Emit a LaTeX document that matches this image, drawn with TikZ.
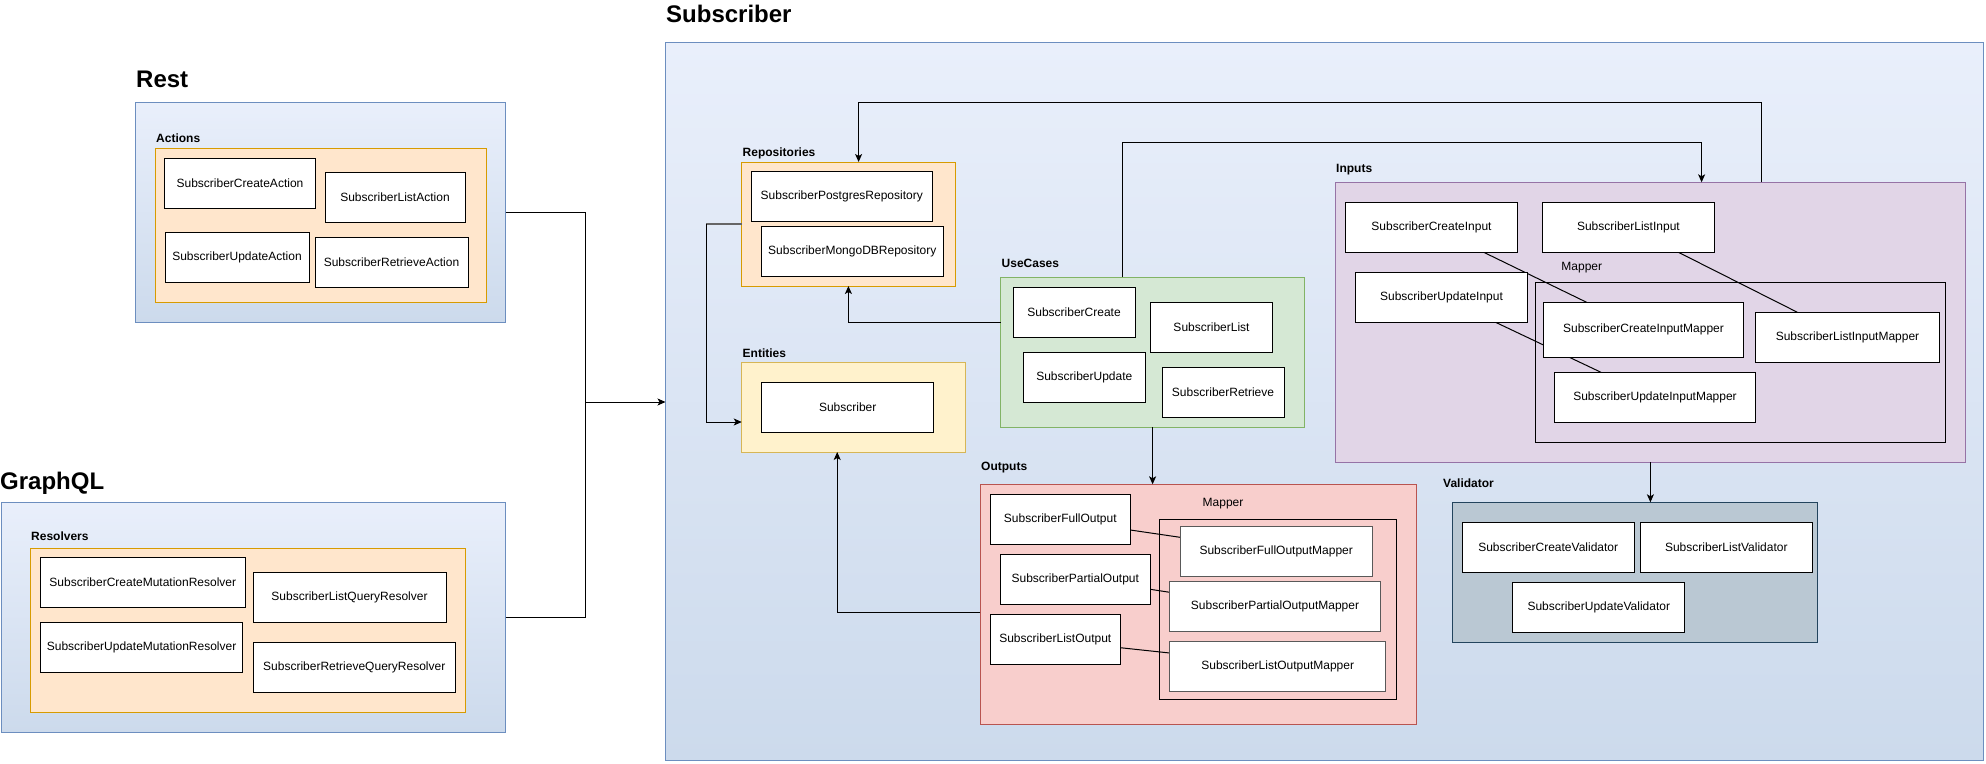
\documentclass[tikz,border=0pt]{standalone}
\usepackage{fontspec}
\setmainfont{Liberation Sans}
\usetikzlibrary{arrows.meta}
\pgfdeclarelayer{bg}
\pgfdeclarelayer{mid}
\pgfsetlayers{bg,mid,main}
\definecolor{blueS}{HTML}{6C8EBF}
\definecolor{blueT}{HTML}{E9EFFB}
\definecolor{blueB}{HTML}{CCDAEC}
\definecolor{orF}{HTML}{FFE6CC}\definecolor{orS}{HTML}{D79B00}
\definecolor{yeF}{HTML}{FFF2CC}\definecolor{yeS}{HTML}{D6B656}
\definecolor{grF}{HTML}{D5E8D4}\definecolor{grS}{HTML}{82B366}
\definecolor{puF}{HTML}{E1D5E7}\definecolor{puS}{HTML}{9673A6}
\definecolor{reF}{HTML}{F8CECC}\definecolor{reS}{HTML}{B85450}
\definecolor{vaF}{HTML}{BAC8D3}\definecolor{vaS}{HTML}{23445D}
\tikzset{
  box/.style={draw=black, fill=white, line width=1pt, inner sep=0pt, outer sep=0pt,
    font=\fontsize{12}{14}\selectfont, align=center, minimum height=50pt},
  gbox/.style={box, draw=black!65},
  grp/.style={line width=1pt, inner sep=0pt, outer sep=0pt},
  outerbox/.style={grp, draw=blueS, top color=blueT, bottom color=blueB},
  orbox/.style={grp, draw=orS, fill=orF},
  yebox/.style={grp, draw=yeS, fill=yeF},
  grbox/.style={grp, draw=grS, fill=grF},
  pubox/.style={grp, draw=puS, fill=puF},
  rebox/.style={grp, draw=reS, fill=reF},
  vabox/.style={grp, draw=vaS, fill=vaF},
  mapbox/.style={grp, draw=black},
  title/.style={anchor=base west, inner sep=0pt, font=\fontsize{24}{28}\selectfont\bfseries},
  lbl/.style={anchor=base west, inner sep=0pt, font=\fontsize{12}{14}\selectfont\bfseries},
  mlbl/.style={inner sep=0pt, font=\fontsize{12}{14}\selectfont},
  arr/.style={line width=1pt, -{Stealth[length=8pt,width=7pt,inset=2pt]}},
  ln/.style={line width=1pt},
}
\begin{document}
\begin{tikzpicture}[x=1pt,y=-1pt]
\useasboundingbox (0,0) rectangle (1986,763);
\begin{pgfonlayer}{bg}
\fill[white] (0,0) rectangle (1986,763);
% Rest
\node[outerbox, minimum width=370pt, minimum height=220pt] (rest) at (320.5,212) {};
\node[orbox, minimum width=331pt, minimum height=154pt] (actions) at (320.5,225) {};
% GraphQL
\node[outerbox, minimum width=504.5pt, minimum height=230pt] (gql) at (253.25,617) {};
\node[orbox, minimum width=435pt, minimum height=164pt] (resolvers) at (247.5,630) {};
% Subscriber
\node[outerbox, minimum width=1318pt, minimum height=718pt] (sub) at (1324.5,401.5) {};
\node[orbox, minimum width=213.3pt, minimum height=124pt] (repos) at (848.4,224) {};
\node[yebox, minimum width=223.3pt, minimum height=90pt] (entities) at (853.4,407) {};
\node[grbox, minimum width=304pt, minimum height=150pt] (usecases) at (1152.6,352) {};
\node[pubox, minimum width=630pt, minimum height=280pt] (inputs) at (1650.4,322.3) {};
\node[mapbox, minimum width=410pt, minimum height=160pt] (inmap) at (1740.4,362.3) {};
\node[rebox, minimum width=436.4pt, minimum height=240pt] (outputs) at (1198.5,604.3) {};
\node[mapbox, minimum width=236.7pt, minimum height=180pt] (outmap) at (1278.3,609.3) {};
\node[vabox, minimum width=365.1pt, minimum height=140pt] (validator) at (1634.9,572.3) {};
\end{pgfonlayer}

% titles and labels
\node[title] (tRest) at (136,87.7) {Rest};
\node[title] (tGql) at (0,489.5) {GraphQL};
\node[title] (tSub) at (666,22.5) {Subscriber};
\node[lbl] (lActions) at (156,142) {Actions};
\node[lbl] (lResolvers) at (31,540) {Resolvers};
\node[lbl] (lRepos) at (742.5,156.3) {Repositories};
\node[lbl] (lEntities) at (742.5,357.3) {Entities};
\node[lbl] (lUseCases) at (1001.5,267.3) {UseCases};
\node[lbl] (lInputs) at (1336,172.3) {Inputs};
\node[lbl] (lOutputs) at (981,470.3) {Outputs};
\node[lbl] (lValidator) at (1443,487) {Validator};
\node[mlbl] (lMapIn) at (1581.8,268) {Mapper};
\node[mlbl] (lMapOut) at (1223,504) {Mapper};

% Rest actions
\node[box, minimum width=151pt] (ca) at (240,183) {SubscriberCreateAction};
\node[box, minimum width=140pt] (la) at (395,197) {SubscriberListAction};
\node[box, minimum width=144pt] (ua) at (237,257) {SubscriberUpdateAction};
\node[box, minimum width=153pt] (ra) at (391.5,262) {SubscriberRetrieveAction};
% GraphQL resolvers
\node[box, minimum width=204.4pt] (cmr) at (142.8,582) {SubscriberCreateMutationResolver};
\node[box, minimum width=193pt] (lqr) at (349.5,597) {SubscriberListQueryResolver};
\node[box, minimum width=202pt] (umr) at (141.6,647) {SubscriberUpdateMutationResolver};
\node[box, minimum width=202.5pt] (rqr) at (354.25,667) {SubscriberRetrieveQueryResolver};
% Repositories
\node[box, minimum width=180.5pt] (pg) at (841.75,196) {SubscriberPostgresRepository};
\node[box, minimum width=182.5pt] (mg) at (852.25,251) {SubscriberMongoDBRepository};
% Entities
\node[box, minimum width=171.8pt] (ent) at (847.7,407) {Subscriber};
% UseCases
\node[box, minimum width=122pt] (uc) at (1074,312) {SubscriberCreate};
\node[box, minimum width=122pt] (ul) at (1211.5,327) {SubscriberList};
\node[box, minimum width=122pt] (uu) at (1084.3,377) {SubscriberUpdate};
\node[box, minimum width=122pt] (ur) at (1223,392) {SubscriberRetrieve};
% Inputs
\node[box, minimum width=172pt] (cin) at (1431.5,227.3) {SubscriberCreateInput};
\node[box, minimum width=172pt] (lin) at (1628.4,227.3) {SubscriberListInput};
\node[box, minimum width=172pt] (uin) at (1441.5,297.3) {SubscriberUpdateInput};
\node[box, minimum width=200.3pt, minimum height=55pt] (cim) at (1643.5,329.8) {SubscriberCreateInputMapper};
\node[box, minimum width=184.2pt] (lim) at (1847.5,337.3) {SubscriberListInputMapper};
\node[box, minimum width=200.8pt] (uim) at (1655,397.3) {SubscriberUpdateInputMapper};
% Outputs
\node[box, minimum width=140pt] (fo) at (1060.3,519.3) {SubscriberFullOutput};
\node[box, minimum width=150pt] (po) at (1075.3,579.3) {SubscriberPartialOutput};
\node[box, minimum width=130pt] (lo) at (1055.3,639.3) {SubscriberListOutput};
\node[gbox, minimum width=192.3pt] (fom) at (1276.2,551.8) {SubscriberFullOutputMapper};
\node[gbox, minimum width=210.6pt] (pom) at (1275,606.8) {SubscriberPartialOutputMapper};
\node[gbox, minimum width=216pt] (lom) at (1277.7,666.7) {SubscriberListOutputMapper};
% Validator
\node[box, minimum width=172.3pt] (cv) at (1548.2,547.3) {SubscriberCreateValidator};
\node[box, minimum width=172pt] (lv) at (1726.3,547.3) {SubscriberListValidator};
\node[box, minimum width=172pt] (uv) at (1598.8,607.3) {SubscriberUpdateValidator};

% connectors
\coordinate (j) at (585.5,402);
\coordinate (t1) at (1761.6,102);
\coordinate (t2) at (858.6,102);
\coordinate (u1) at (1122.5,142);
\coordinate (u2) at (1701.6,142);
\coordinate (v1) at (848.4,322);
\coordinate (w2) at (706,422);
\coordinate (o1) at (837.2,612.3);
\begin{pgfonlayer}{mid}
\draw[ln] (rest.east) -| (j);
\draw[ln] (gql.east) -| (j);
\draw[arr] (j) -- (j -| sub.west);
\draw[arr] (t1 |- inputs.north) -- (t1) -- (t2) -- (t2 |- repos.north);
\draw[arr] (u1 |- usecases.north) -- (u1) -- (u2) -- (u2 |- inputs.north);
\draw[arr] (v1 -| usecases.west) -- (v1) -- (v1 |- repos.south);
\draw[ln, draw=black!60, line width=1.5pt] (repos.west) -- (repos.west -| w2);
\draw[arr] (repos.west -| w2) -- (w2) -- (w2 -| entities.west);
\draw[arr] (usecases.south) -- (usecases.south |- outputs.north);
\draw[arr] (o1 -| outputs.west) -- (o1) -- (o1 |- entities.south);
\draw[arr] (inputs.south) -- (inputs.south |- validator.north);
% mapper links
\draw[ln] ([xshift=52.25pt]cin.south) -- ([xshift=-56.9pt]cim.north);
\draw[ln] ([xshift=50pt]lin.south) -- ([xshift=-50.1pt]lim.north);
\draw[ln] ([xshift=54.1pt]uin.south) -- ([xshift=-54pt]uim.north);
\draw[ln] ([yshift=-10.7pt]fo.east) -- ([yshift=14.5pt]fom.west);
\draw[ln] ([yshift=-10pt]po.east) -- ([yshift=14.5pt]pom.west);
\draw[ln] ([yshift=-8.4pt]lo.east) -- ([yshift=13.7pt]lom.west);
\end{pgfonlayer}
\end{tikzpicture}
\end{document}
